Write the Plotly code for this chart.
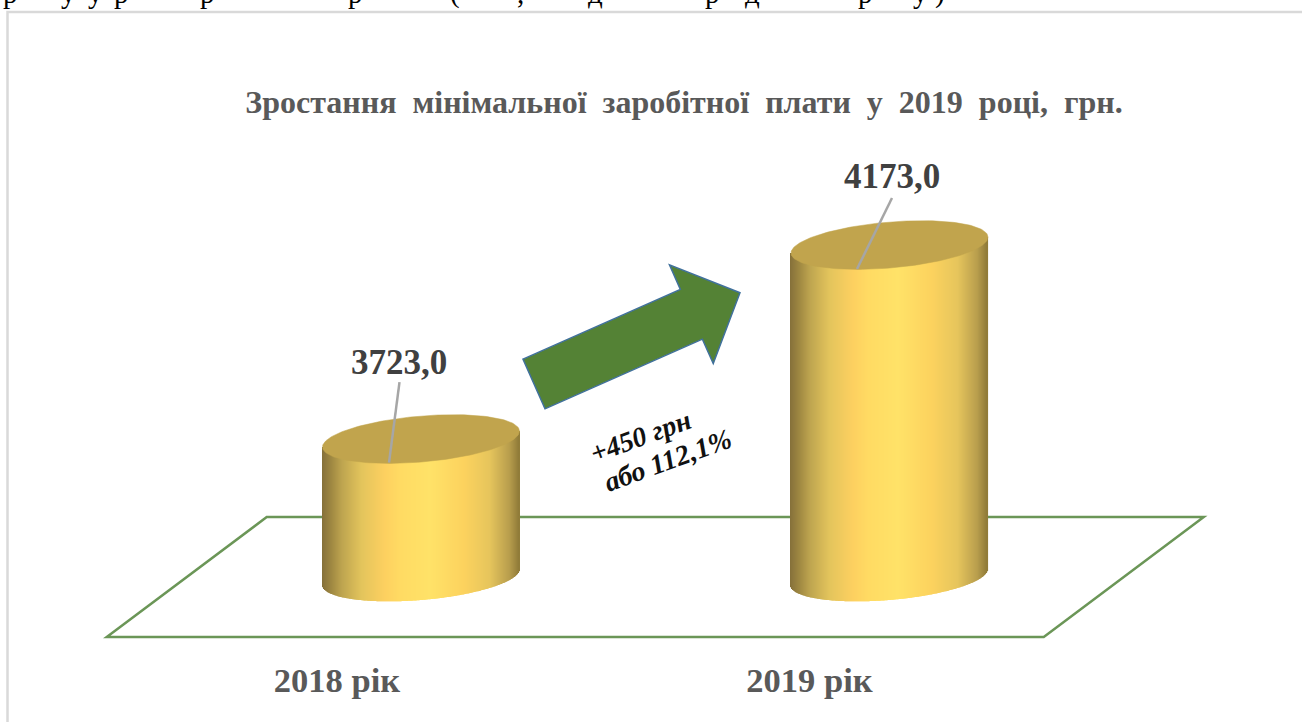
import numpy as np
import plotly.graph_objects as go

# --- data ---
categories = ["2018 рік", "2019 рік"]
values = [3723.0, 4173.0]
title_text = "Зростання  мінімальної  заробітної  плати  у  2019  році,  грн."
change_lines = ["+450 грн", "або 112,1%"]
clipped_glyphs = ["р", "у", "у", "р", "р", "р", "(", ",", "д", "р", "д", "р", "у", ")"]

# --- canvas / projection (pixels of the 1302x722 page) ---
W, H = 1302, 722
CAT_PX = 468.5          # pixels between categories
CAT0_PX = 341.0         # pixel of category 0 on front edge
DEPTH_PX = 160.0        # oblique shift of the floor depth
PX_PER_UNIT = 0.4311    # value scale
FLOOR_MID_PX = 577.0    # pixel row of the floor's mid depth
FLOOR_VALUE = 3403.0    # value at the floor plane
FLOOR_HALF_DEPTH_PX = 60.0
RX, RY, SKEW = 98.5, 23.0, 8.0  # cylinder ellipse

def xu(px):
    return (px - CAT0_PX) / CAT_PX

def vu(py):
    return FLOOR_VALUE + (FLOOR_MID_PX - py) / PX_PER_UNIT

def px_x(px):
    return px / W

def px_y(py):
    return 1 - py / H

GRAD_POS = [0, 0.05, 0.1, 0.2, 0.32, 0.4, 0.55, 0.72, 0.85, 0.95, 1]
GRAD_RGB = [(0x85, 0x70, 0x3a), (0xa0, 0x89, 0x42), (0xbd, 0xa4, 0x4f), (0xe3, 0xc4, 0x5c), (0xfd, 0xd0, 0x60),
            (0xff, 0xdb, 0x63), (0xff, 0xe2, 0x68), (0xfc, 0xd2, 0x5e), (0xe6, 0xc5, 0x5c), (0xb8, 0x9e, 0x4d),
            (0x8f, 0x7a, 0x38)]

def grad(fr):
    c = [np.interp(fr, GRAD_POS, [g[k] for g in GRAD_RGB]) for k in range(3)]
    return f"rgb({c[0]:.0f},{c[1]:.0f},{c[2]:.0f})"

fig = go.Figure()

# cylinder bodies: one opaque 1-px bar per vertical slice, colour from the shading ramp
bx, by, bbase, bcol = [], [], [], []
offsets = np.arange(-RX + 0.5, RX, 1.0)
for i, v in enumerate(values):
    centre = i + DEPTH_PX / 2 / CAT_PX
    for dx in offsets:
        u = dx / RX
        front = RY * np.sqrt(1 - u * u)
        top = v + SKEW * u / PX_PER_UNIT
        bottom = FLOOR_VALUE - (front - SKEW * u) / PX_PER_UNIT
        bx.append(centre + dx / CAT_PX)
        bbase.append(bottom)
        by.append(top - bottom)
        bcol.append(grad((dx + RX) / (2 * RX)))
fig.add_trace(go.Bar(x=bx, y=by, base=bbase, width=1.15 / CAT_PX, marker=dict(color=bcol, line=dict(width=0)),
                     hoverinfo="skip", showlegend=False))

# cylinder top faces
t = np.linspace(0, 2 * np.pi, 181)
for i, v in enumerate(values):
    centre = i + DEPTH_PX / 2 / CAT_PX
    ex = centre + RX * np.cos(t) / CAT_PX
    ey = v - (RY * np.sin(t) - SKEW * np.cos(t)) / PX_PER_UNIT
    fig.add_trace(go.Scatter(x=ex, y=ey, mode="lines", fill="toself", fillcolor="#c1a44d",
                             line=dict(color="#c1a44d", width=0.5), hoverinfo="skip", showlegend=False))

# leader lines and data labels
LABEL_DX = [-22, 2.5]
LABEL_DY = [77, 69]
LEAD_TOP = [(-21.5, 57), (2.5, 47)]
LEAD_END = [(-32, -23.5), (-32.5, -24)]
annotations = []
for i, v in enumerate(values):
    cx = i + DEPTH_PX / 2 / CAT_PX
    lx = [cx + LEAD_TOP[i][0] / CAT_PX, cx + LEAD_END[i][0] / CAT_PX]
    ly = [v + LEAD_TOP[i][1] / PX_PER_UNIT, v + LEAD_END[i][1] / PX_PER_UNIT]
    fig.add_trace(go.Scatter(x=lx, y=ly, mode="lines", line=dict(color="#a6a6a6", width=2.5),
                             hoverinfo="skip", showlegend=False))
    annotations.append(dict(x=cx + LABEL_DX[i] / CAT_PX, y=v + LABEL_DY[i] / PX_PER_UNIT, xref="x", yref="y",
                            text=f"<b>{v:.1f}</b>".replace(".", ","), showarrow=False,
                            font=dict(family="Liberation Serif", size=35, color="#404040")))

# change annotation
CHANGE_POS = [(640, 436), (667, 460)]
for line, (cxp, cyp) in zip(change_lines, CHANGE_POS):
    annotations.append(dict(x=px_x(cxp), y=px_y(cyp), xref="paper", yref="paper", text=line, showarrow=False,
                            textangle=-20, xanchor="center", yanchor="middle",
                            font=dict(family="Liberation Serif", size=28, color="#111111", weight="bold",
                                      style="italic")))

# clipped line of the page text above the chart
GLYPH_X = [10, 68, 95, 121, 207, 355, 455, 520, 595, 712, 752, 865, 920, 940]
for g, gx in zip(clipped_glyphs, GLYPH_X):
    annotations.append(dict(x=px_x(gx), y=px_y(11), xref="paper", yref="paper", yanchor="bottom", xanchor="center",
                            text=g, showarrow=False, font=dict(family="Liberation Serif", size=29, color="#000000")))

# arrow built from its axis
tail = np.array([534.0, 384.0])
tip = np.array([740.0, 292.7])
along = (tip - tail) / np.linalg.norm(tip - tail)
perp = np.array([-along[1], along[0]])
neck = tip - along * 53.2
arrow = [tail - perp * 27.2, neck - perp * 27.2, neck - perp * 54, tip, neck + perp * 54, neck + perp * 27.2,
         tail + perp * 27.2]
arrow_path = "M " + " L ".join(f"{px_x(p[0]):.5f},{px_y(p[1]):.5f}" for p in arrow) + " Z"

# floor
D = DEPTH_PX / CAT_PX
v_front = FLOOR_VALUE - FLOOR_HALF_DEPTH_PX / PX_PER_UNIT
v_back = FLOOR_VALUE + FLOOR_HALF_DEPTH_PX / PX_PER_UNIT
floor_path = (f"M -0.5,{v_front} L 1.5,{v_front} L {1.5 + D},{v_back} L {-0.5 + D},{v_back} Z")

frame_path = f"M {px_x(7.5)},{px_y(722)} L {px_x(7.5)},{px_y(12)} L 1,{px_y(12)}"

fig.update_layout(
    width=W, height=H, margin=dict(l=0, r=0, t=0, b=0), autosize=False,
    paper_bgcolor="white", plot_bgcolor="rgba(0,0,0,0)", showlegend=False, barmode="overlay",
    title=dict(text=f"<b>{title_text}</b>", x=684 / W, y=px_y(102), xanchor="center", yanchor="middle",
               xref="paper", yref="paper",
               font=dict(family="Liberation Serif", size=32, color="#595959")),
    xaxis=dict(range=[xu(0), xu(W)], tickmode="array", tickvals=[-4 / CAT_PX, 1],
               ticktext=[f"<b>{c}</b>" for c in categories],
               showgrid=False, zeroline=False, showline=False, ticks="outside", ticklen=0, anchor="free",
               position=px_y(650), tickfont=dict(family="Liberation Serif", size=34.5, color="#595959")),
    yaxis=dict(range=[vu(H), vu(0)], visible=False, showgrid=False, zeroline=False),
    shapes=[
        dict(type="path", path=frame_path, xref="paper", yref="paper", line=dict(color="#d9d9d9", width=2.5), layer="below"),
        dict(type="path", path=floor_path, xref="x", yref="y", line=dict(color="#6b9657", width=2.5), layer="below"),
        dict(type="path", path=arrow_path, xref="paper", yref="paper", fillcolor="#548235",
             line=dict(color="#41719c", width=1.5), layer="above"),
    ],
    annotations=annotations,
)

fig.write_html("out.html", config=dict(displayModeBar=False),
               post_script="document.body.style.margin='0';document.body.style.overflow='hidden';")
